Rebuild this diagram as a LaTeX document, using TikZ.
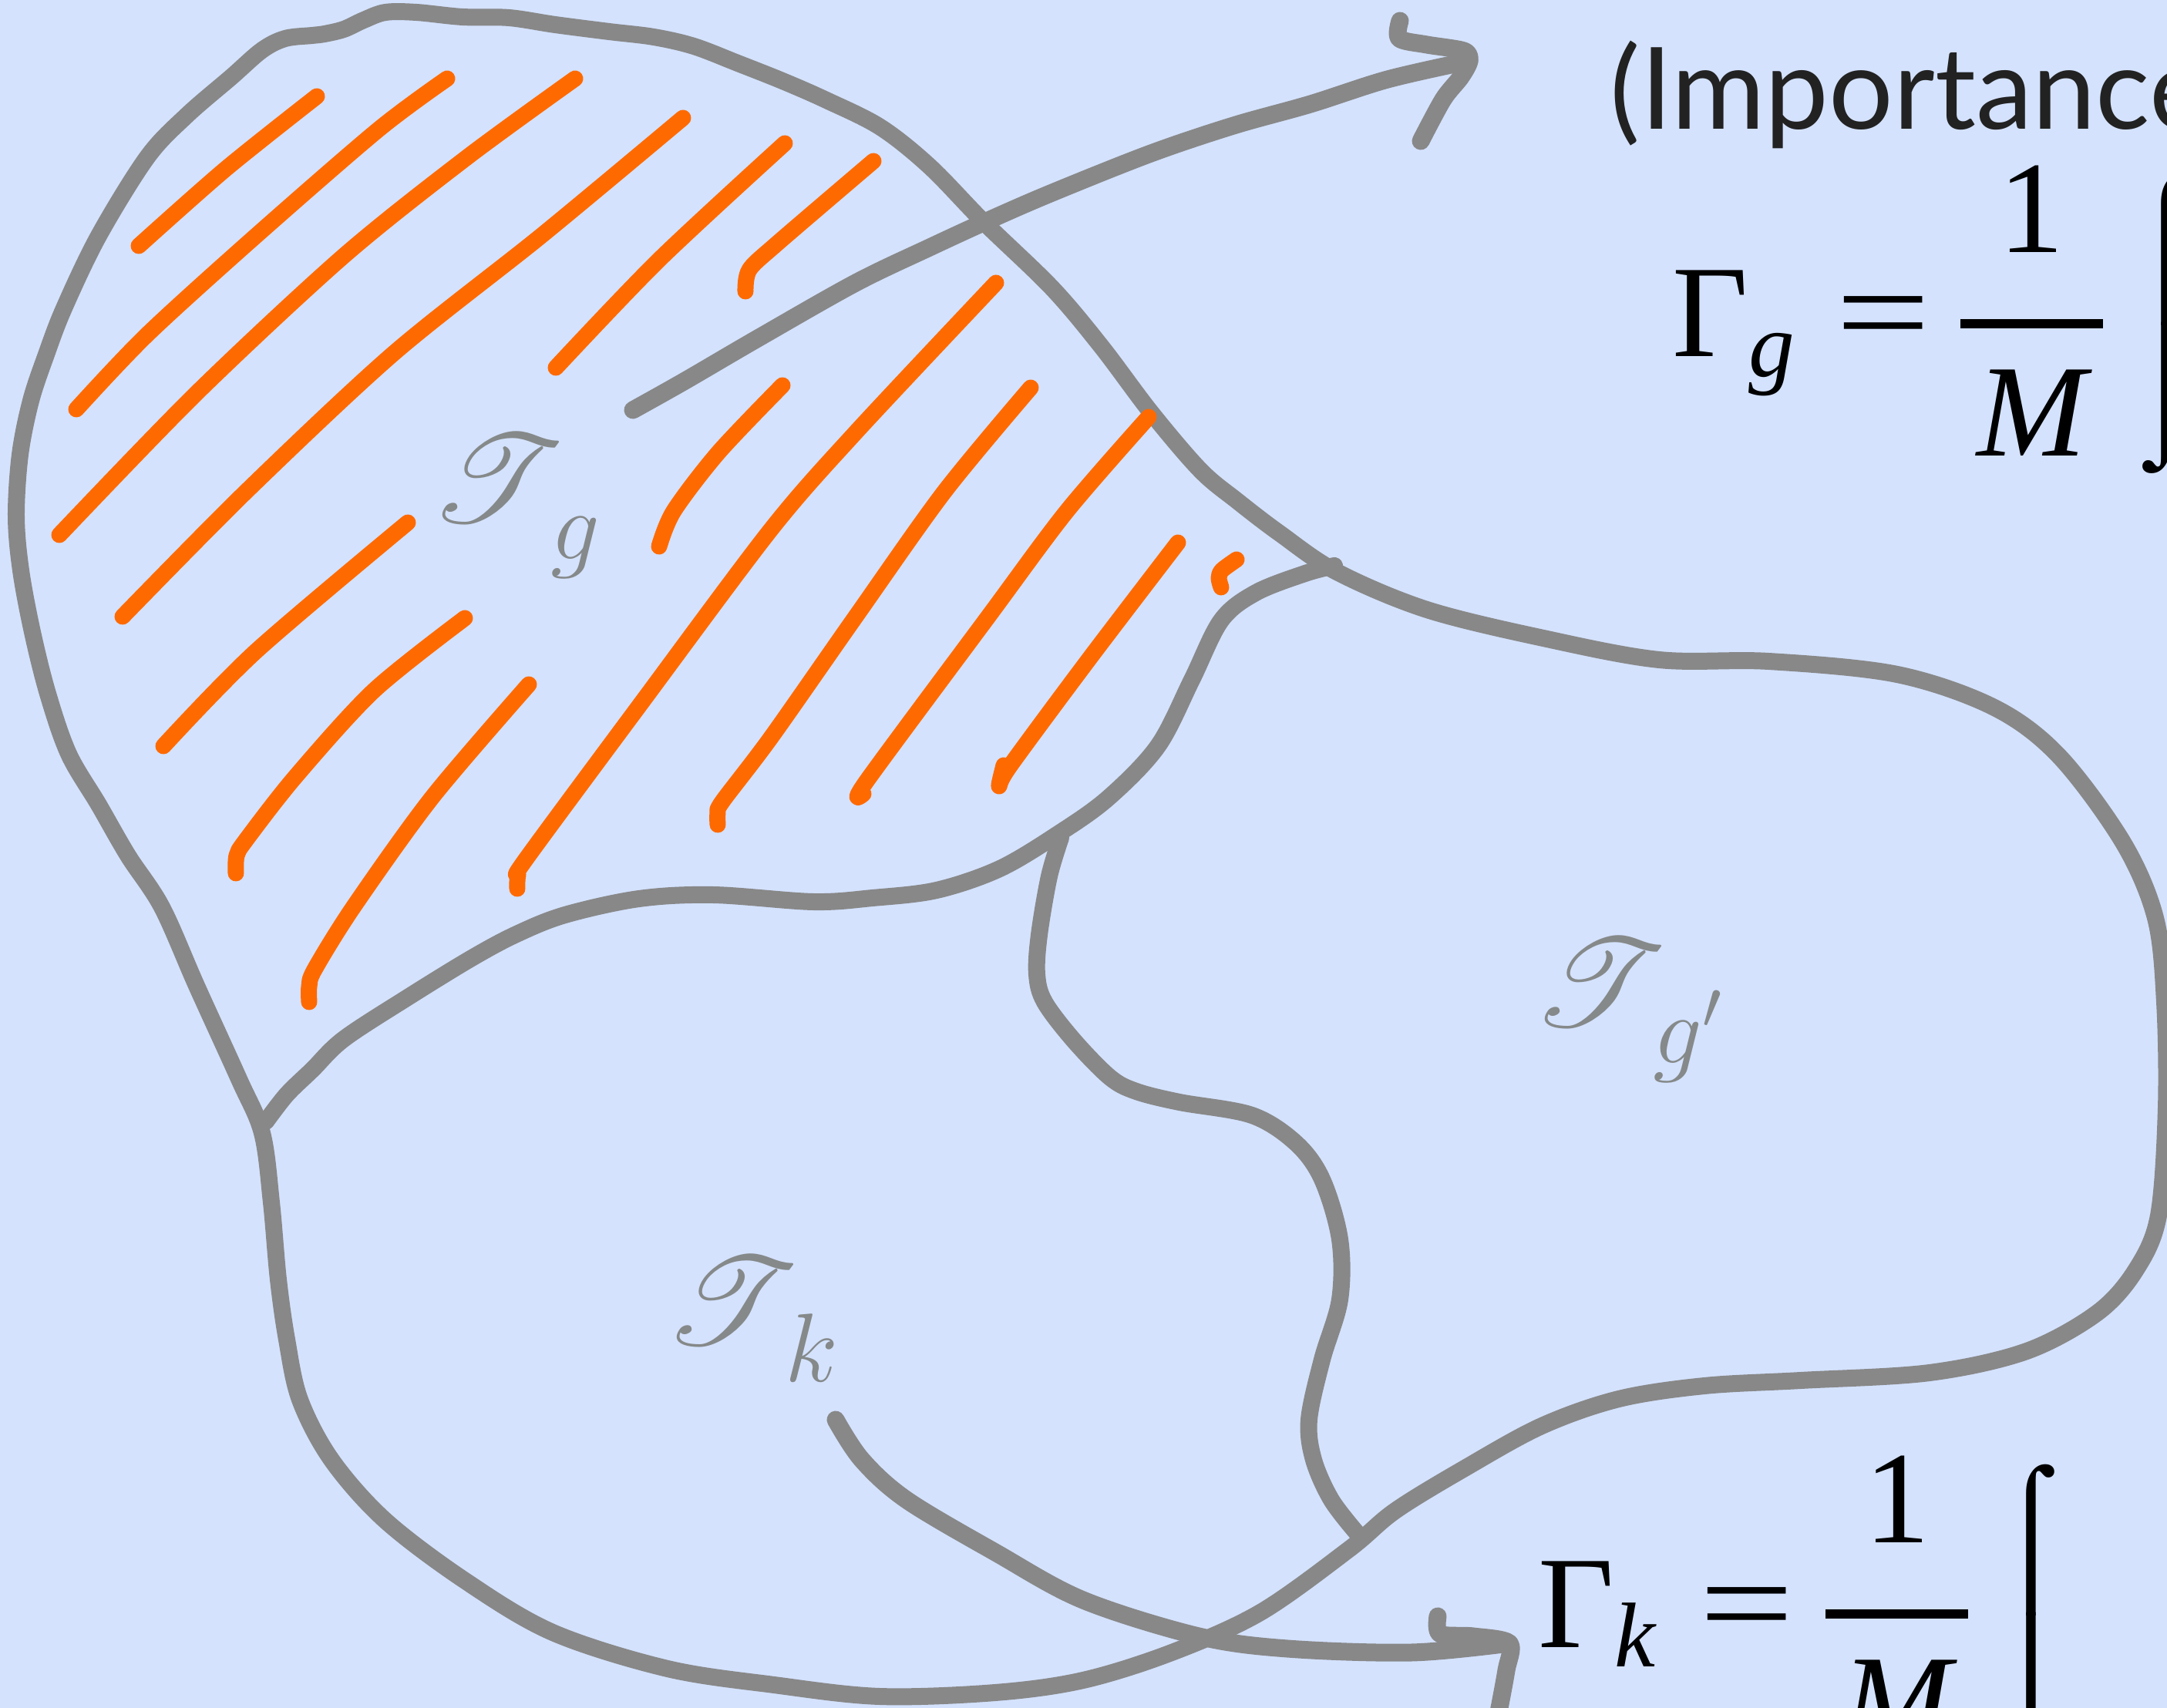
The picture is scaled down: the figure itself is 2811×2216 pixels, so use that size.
\RequirePackage{fix-cm}
\documentclass[tikz,border=0pt]{standalone}
\usepackage{amsmath}
\usepackage{mathrsfs}
\usepackage{graphicx}
\usepackage{fontspec}
\newfontfamily\tmsf{Liberation Serif}
\newfontfamily\avfont{Lato}
\newcommand{\tmx}[1]{\text{\tmsf #1}}
\newcommand{\bigint}{\vcenter{\hbox{\resizebox*{!}{38.9mm}{\tmsf\vbox{\offinterlineskip\hbox{⌠}\kern-1pt\hbox{⌡}}}}}}
\newcommand{\scrT}{\scalebox{1.92}[1.85]{$\mathscr{T}$}}
\newcommand{\subl}[1]{\kern-1.8mm\raisebox{-4.8mm}{\fontsize{36}{40}\selectfont$#1$}}
\definecolor{bgblue}{RGB}{212,226,254}
\definecolor{pen}{RGB}{136,136,136}
\definecolor{labgray}{RGB}{133,137,137}
\definecolor{hatch}{RGB}{255,106,0}
\definecolor{ink}{RGB}{34,34,34}
\tikzset{
  border/.style={draw=pen, line width=2.2mm, line cap=round, line join=round},
  arrowline/.style={draw=pen, line width=2.3mm, line cap=round, line join=round},
  hatchline/.style={draw=hatch, line width=2.1mm, line cap=round, line join=round},
  region/.style={text=labgray, font=\fontsize{24.88}{30}\selectfont, inner sep=0pt, anchor=base west},
  formula/.style={text=black, font=\fontsize{48.5}{58}\selectfont, inner sep=0pt, anchor=base west},
  caption/.style={text=ink, font=\avfont\fontsize{42}{50}\selectfont, inner sep=0pt, anchor=base west}
}
\begin{document}
\begin{tikzpicture}[x=0.1mm,y=-0.1mm]
\useasboundingbox (0,0) rectangle (2811,2216);
\fill[bgblue] (0,0) rectangle (2811,2216);
\clip (0,0) rectangle (2811,2216);

% outer boundary
\draw[border] plot[smooth cycle, tension=0.55] coordinates {
 (421,44) (446,38) (472,26) (500,16) (540,16) (600,22) (660,23) (720,32) (790,41) (848,48) (900,60)
 (957,82) (1015,105) (1072,130) (1142,165) (1206,216) (1276,288) (1365,374) (1429,450) (1493,535)
 (1557,610) (1605,650) (1660,692) (1734,742) (1851,791) (2002,828) (2152,856) (2294,858) (2461,875)
 (2587,918) (2671,981) (2754,1093) (2796,1191) (2808,1300) (2810,1437) (2800,1577) (2771,1647)
 (2721,1703) (2629,1753) (2503,1781) (2336,1791) (2211,1798) (2100,1815) (2000,1850) (1900,1905)
 (1810,1960) (1750,2010) (1635,2092) (1520,2144) (1405,2180) (1291,2196) (1141,2201) (1004,2186)
 (866,2165) (717,2118) (602,2050) (499,1972) (430,1894) (389,1816) (372,1738) (361,1660) (352,1560)
 (340,1470) (310,1400) (255,1279) (210,1177) (166,1110) (128,1044) (89,978) (62,900) (42,820)
 (27,740) (21,670) (26,590) (40,520) (60,460) (83,400) (128,306) (191,204) (242,150) (300,100)
 (340,65) (370,50) (405,46)};

% boundary between T_g and T_k
\draw[border] plot[smooth, tension=0.55] coordinates {
 (345,1455) (372,1420) (405,1388) (446,1348) (529,1294) (612,1243) (670,1212) (733,1187) (829,1166)
 (925,1161) (1055,1170) (1132,1165) (1215,1155) (1297,1127) (1374,1081) (1438,1035) (1502,968)
 (1546,882) (1584,805) (1629,769) (1693,744) (1731,734)};

% boundary between T_k and T_g'
\draw[border] plot[smooth, tension=0.55] coordinates {
 (1376,1087) (1361,1137) (1348,1213) (1345,1264) (1355,1300) (1393,1350) (1440,1398) (1474,1416)
 (1530,1430) (1624,1447) (1681,1483) (1715,1530) (1738,1608) (1738,1686) (1715,1764) (1698,1842)
 (1704,1894) (1727,1946) (1761,1990)};

% hatching
\draw[hatchline] plot[smooth] coordinates {(180,319) (293,219) (411,125)};
\draw[hatchline] plot[smooth] coordinates {(99,531) (191,434) (332,306) (491,168) (580,102)};
\draw[hatchline] plot[smooth] coordinates {(77,694) (255,510) (446,332) (606,204) (746,102)};
\draw[hatchline] plot[smooth] coordinates {(159,800) (319,638) (510,459) (702,306) (886,153)};
\draw[hatchline] plot[smooth] coordinates {(721,477) (855,337) (1018,186)};
\draw[hatchline] plot[smooth] coordinates {(967,378) (972,350) (1008,316) (1133,209)};
\draw[hatchline] plot[smooth] coordinates {(212,968) (332,845) (529,678)};
\draw[hatchline] plot[smooth] coordinates {(306,1133) (307,1110) (319,1090) (383,1008) (485,896) (603,802)};
\draw[hatchline] plot[smooth] coordinates {(401,1300) (401,1280) (408,1258) (459,1176) (561,1034) (686,888)};
\draw[hatchline] plot[smooth] coordinates {(671,1153) (672,1135) (682,1115) (829,916) (1000,687) (1110,561) (1292,367)};
\draw[hatchline] plot[smooth] coordinates {(855,709) (874,663) (932,587) (1015,500)};
\draw[hatchline] plot[smooth] coordinates {(931,1070) (931,1055) (937,1040) (1000,957) (1110,800) (1225,638) (1337,503)};
\draw[hatchline] plot[smooth] coordinates {(1120,1030) (1123,1015) (1282,800) (1384,663) (1490,541)};
\draw[hatchline] plot[smooth] coordinates {(1302,993) (1296,1020) (1310,994) (1412,856) (1528,704)};
\draw[hatchline] plot[smooth] coordinates {(1604,726) (1585,740) (1581,750) (1584,762)};

% labels
\node[region] (Tg) at (558,678) {\scrT\subl{g}};
\node[region] (Tgp) at (1988,1332) {\scrT\subl{g'}};
\node[region] (Tk) at (862,1744) {\scrT\subl{k}};

% formulas and caption
\node[caption] (imp) at (2088,168) {(Importance};
\node[formula] (Gg) at (2169,463) {$\displaystyle \tmx{Γ}_{\tmx{\itshape g}}\hspace{5.2mm}\mathord{\scalebox{1.28}[1]{\tmsf =}}\hspace{3.4mm}\genfrac{}{}{1.2mm}{0}{\makebox[18.5mm]{\raisebox{2mm}{\tmsf 1}}}{\makebox[18.5mm]{\raisebox{-1.2mm}{\tmsf\itshape M}}}\hspace{2.5mm}\bigint$};
\node[formula] (Gk) at (1995,2137) {$\displaystyle \tmx{Γ}_{\tmx{\itshape k}}\hspace{5.6mm}\mathord{\scalebox{1.28}[1]{\tmsf =}}\hspace{3.6mm}\genfrac{}{}{1.2mm}{0}{\makebox[18.5mm]{\raisebox{2mm}{\tmsf 1}}}{\makebox[18.5mm]{\raisebox{-1.2mm}{\tmsf\itshape M}}}\hspace{2.5mm}\bigint$};

% arrows
\coordinate (gstart) at (821,532);
\coordinate (gtip) at (1906,79);
\coordinate (kstart) at (1084,1842);
\coordinate (ktip) at (1958,2132);
\draw[arrowline] plot[smooth, tension=0.55] coordinates {(gstart) (887,495) (983,439) (1110,367) (1206,321) (1282,286) (1365,250) (1493,199) (1600,163) (1700,135) (1800,103) (gtip)};
\draw[arrowline] plot[smooth, tension=0.5] coordinates {(1816,27) (1815,50) (1851,58) (1899,66) (gtip) (1895,100) (1872,129) (1843,183)};
\draw[arrowline] plot[smooth, tension=0.55] coordinates {(kstart) (1118,1894) (1176,1946) (1291,2014) (1405,2076) (1555,2123) (1670,2139) (1831,2144) (ktip)};
\draw[arrowline] plot[smooth, tension=0.5] coordinates {(1865,2097) (1868,2120) (1911,2123) (ktip) (1954,2167) (1945,2216) (1938,2250)};
\end{tikzpicture}
\end{document}
